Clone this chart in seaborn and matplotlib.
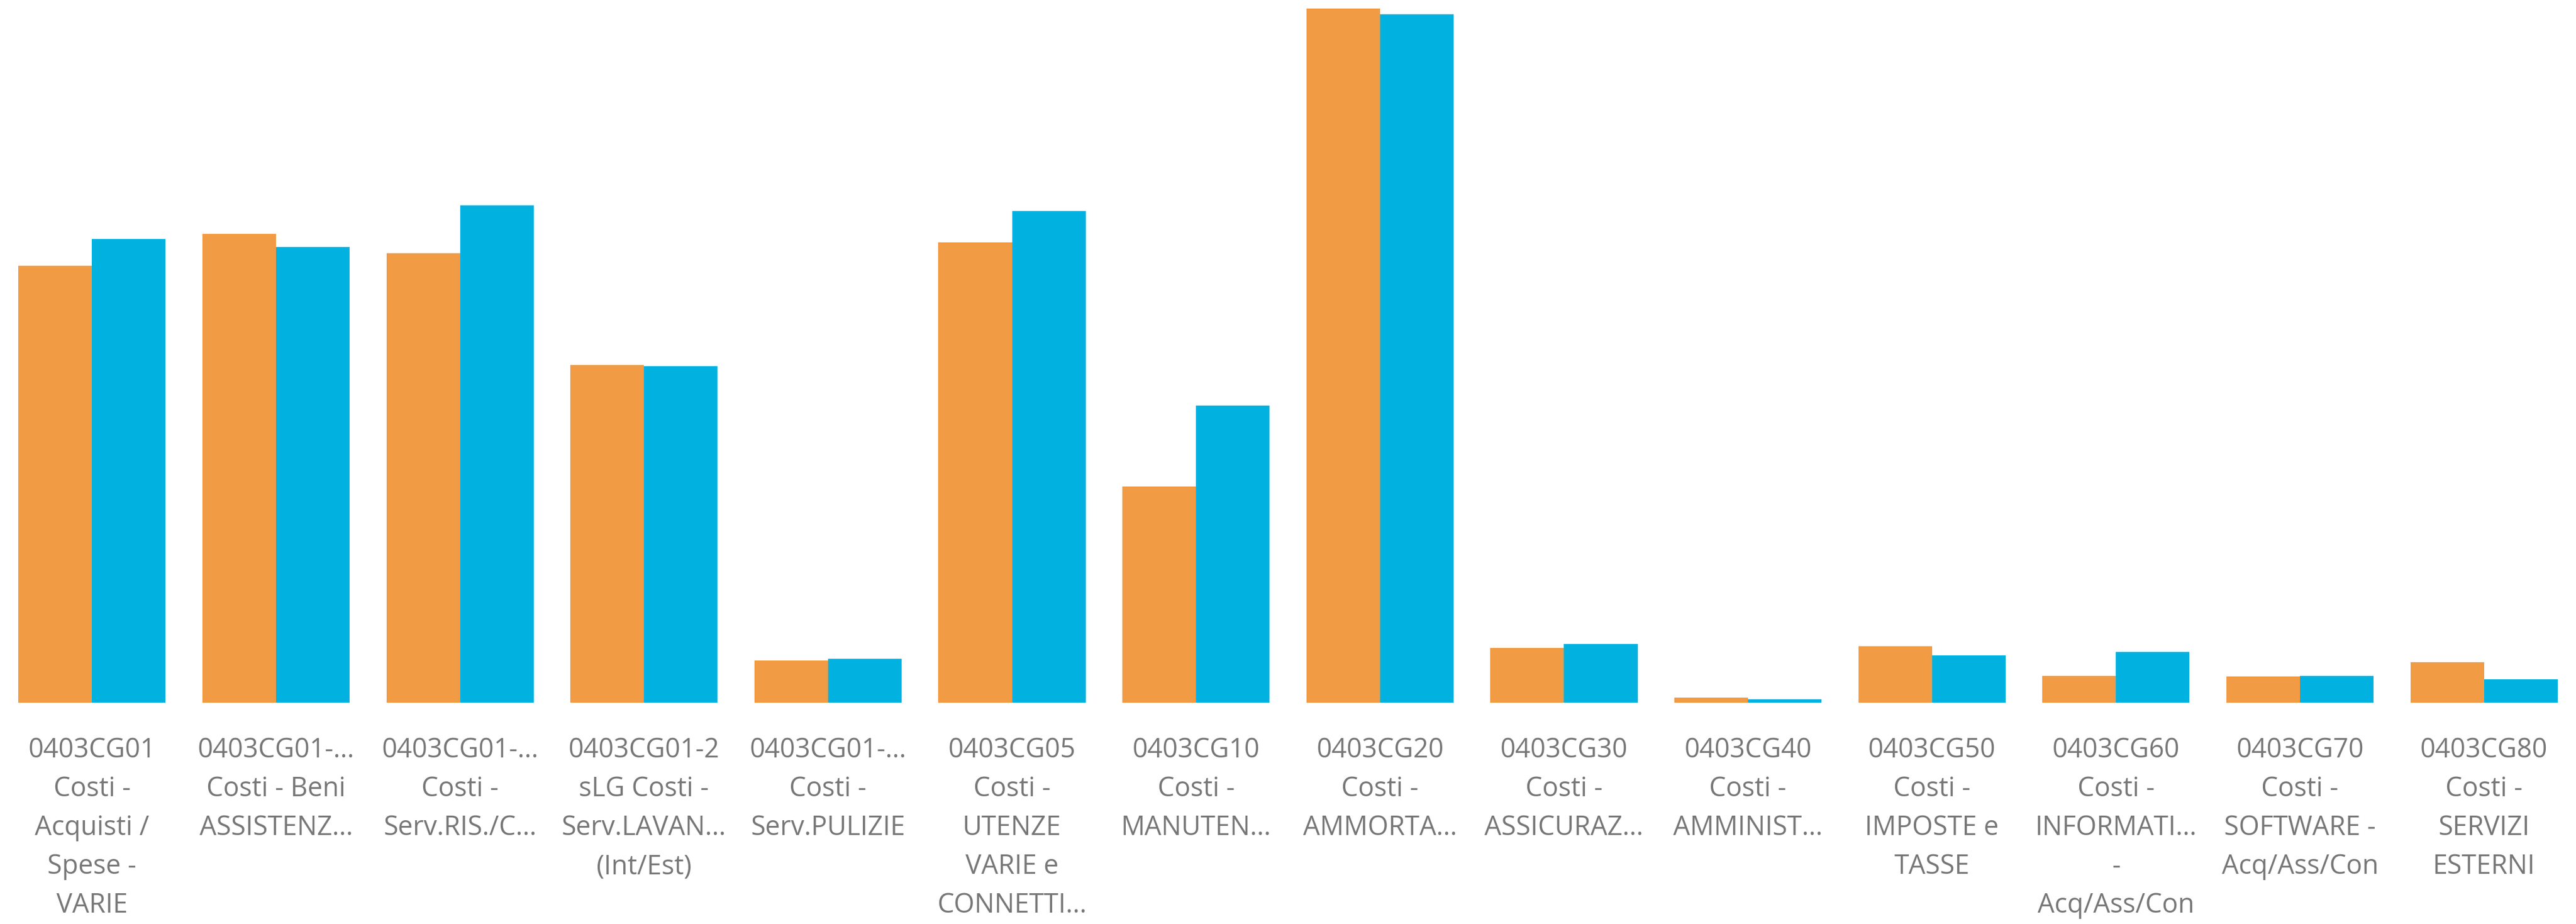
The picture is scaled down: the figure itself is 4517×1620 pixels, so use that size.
import matplotlib
matplotlib.use("Agg")
import matplotlib.pyplot as plt
import seaborn as sns
import pandas as pd

categories = [
    "0403CG01\nCosti -\nAcquisti /\nSpese -\nVARIE",
    "0403CG01-...\nCosti - Beni\nASSISTENZ...",
    "0403CG01-...\nCosti -\nServ.RIS./C...",
    "0403CG01-2\nsLG Costi -\nServ.LAVAN...\n(Int/Est)",
    "0403CG01-...\nCosti -\nServ.PULIZIE",
    "0403CG05\nCosti -\nUTENZE\nVARIE e\nCONNETTI...",
    "0403CG10\nCosti -\nMANUTEN...",
    "0403CG20\nCosti -\nAMMORTA...",
    "0403CG30\nCosti -\nASSICURAZ...",
    "0403CG40\nCosti -\nAMMINIST...",
    "0403CG50\nCosti -\nIMPOSTE e\nTASSE",
    "0403CG60\nCosti -\nINFORMATI...\n-\nAcq/Ass/Con",
    "0403CG70\nCosti -\nSOFTWARE -\nAcq/Ass/Con",
    "0403CG80\nCosti -\nSERVIZI\nESTERNI",
]
series_names = ["Serie A", "Serie B"]
values_a = [766, 822, 788, 592, 74.5, 807, 379, 1217, 96, 9.5, 99, 47.5, 46.5, 71]
values_b = [813, 799, 872, 590, 77, 862, 521, 1207, 103, 6.5, 83.5, 89, 47.5, 41.5]
colors = ["#F19B44", "#01B1E0"]

df = pd.DataFrame({
    "categoria": categories * 2,
    "serie": [series_names[0]] * len(categories) + [series_names[1]] * len(categories),
    "valore": values_a + values_b,
})

sns.set_theme(style="white")
plt.rcParams["font.family"] = ["Open Sans", "DejaVu Sans"]

fig = plt.figure(figsize=(45.17, 16.20), dpi=100)
ax = fig.add_axes([0.0, 1 - 1232 / 1620, 1.0, 1232 / 1620])

sns.barplot(data=df, x="categoria", y="valore", hue="serie", palette=colors,
            width=0.8, gap=0, saturation=1, legend=False, ax=ax,
            edgecolor="none", linewidth=0, errorbar=None)

ax.set_xlim(-0.5, len(categories) - 0.5)
ax.set_ylim(0, 1232)
ax.set_xlabel("")
ax.set_ylabel("")
ax.set_yticks([])
for s in ax.spines.values():
    s.set_visible(False)
ax.tick_params(axis="x", length=0, pad=43, labelsize=33.6, labelcolor="#777777")
for lab in ax.get_xticklabels():
    lab.set_linespacing(1.56)
    lab.set_ha("center")

fig.savefig("out.png", dpi=100, facecolor="white")
